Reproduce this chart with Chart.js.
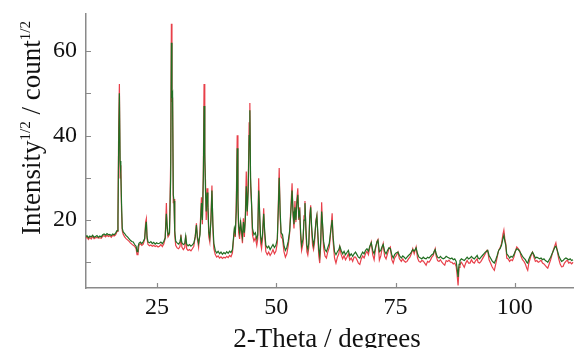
<!DOCTYPE html>
<html>
<head>
<meta charset="utf-8">
<title>XRD pattern</title>
<script src="https://cdn.jsdelivr.net/npm/chart.js@4.4.1/dist/chart.umd.min.js"></script>
<style>
    html, body { margin: 0; padding: 0; background: #fff; }
    #wrap { width: 574px; height: 348px; }
</style>
</head>
<body>
<div id="wrap"><canvas id="xrdChart" width="574" height="348"></canvas></div>
<script>
// 2-theta positions (degrees)
const twoTheta = [
    10.0, 10.3, 10.6, 10.9, 11.2, 11.5, 11.8, 12.1, 12.4, 12.7, 13.0, 13.3, 13.6, 13.9, 14.2, 14.5, 14.8, 15.1, 15.4, 15.7,
    16.0, 16.3, 16.6, 16.8, 16.95, 17.1, 17.25, 17.4, 17.55, 17.7, 17.9, 18.2, 18.5, 18.8, 19.1, 19.4, 19.7, 20.0, 20.3, 20.6,
    20.8, 21.0, 21.2, 21.5, 21.8, 22.1, 22.4, 22.6, 22.75, 22.9, 23.1, 23.4, 23.7, 24.0, 24.3, 24.6, 24.9, 25.2, 25.5, 25.8,
    26.1, 26.4, 26.7, 26.95, 27.1, 27.3, 27.6, 27.85, 28.0, 28.12, 28.25, 28.4, 28.55, 28.7, 28.9, 29.2, 29.5, 29.8, 30.0, 30.2,
    30.5, 30.8, 31.0, 31.2, 31.5, 31.8, 32.1, 32.4, 32.7, 33.0, 33.25, 33.45, 33.7, 34.0, 34.3, 34.5, 34.7, 34.85, 35.0, 35.15,
    35.3, 35.5, 35.65, 35.85, 36.05, 36.3, 36.5, 36.7, 36.9, 37.2, 37.5, 37.8, 38.1, 38.4, 38.7, 39.0, 39.3, 39.6, 39.9, 40.2,
    40.5, 40.8, 41.0, 41.2, 41.4, 41.6, 41.8, 41.95, 42.1, 42.3, 42.5, 42.7, 42.9, 43.1, 43.3, 43.5, 43.7, 43.9, 44.1, 44.3,
    44.45, 44.6, 44.8, 45.0, 45.3, 45.6, 45.9, 46.1, 46.3, 46.5, 46.7, 46.9, 47.1, 47.35, 47.55, 47.8, 48.1, 48.4, 48.7, 49.0,
    49.3, 49.6, 49.9, 50.2, 50.4, 50.6, 50.8, 51.0, 51.3, 51.6, 51.9, 52.2, 52.5, 52.8, 53.0, 53.3, 53.5, 53.7, 53.9, 54.1,
    54.3, 54.5, 54.7, 54.9, 55.1, 55.3, 55.6, 55.8, 56.0, 56.2, 56.4, 56.6, 56.8, 57.0, 57.2, 57.4, 57.6, 57.8, 58.0, 58.3,
    58.5, 58.7, 58.9, 59.1, 59.3, 59.5, 59.7, 59.9, 60.2, 60.5, 60.8, 61.1, 61.4, 61.7, 61.9, 62.2, 62.5, 62.8, 63.1, 63.3,
    63.6, 63.9, 64.2, 64.5, 64.8, 65.1, 65.4, 65.7, 66.0, 66.3, 66.6, 66.9, 67.2, 67.5, 67.8, 68.1, 68.4, 68.7, 69.0, 69.3,
    69.6, 69.9, 70.2, 70.5, 70.8, 71.1, 71.3, 71.6, 71.9, 72.2, 72.4, 72.7, 73.0, 73.3, 73.6, 73.9, 74.2, 74.5, 74.8, 75.1,
    75.5, 75.8, 76.2, 76.5, 76.8, 77.1, 77.4, 77.7, 78.0, 78.3, 78.6, 78.9, 79.3, 79.6, 79.9, 80.2, 80.5, 80.8, 81.1, 81.4,
    81.7, 82.0, 82.3, 82.6, 82.9, 83.1, 83.3, 83.5, 83.8, 84.1, 84.4, 84.7, 85.0, 85.3, 85.6, 85.9, 86.2, 86.5, 86.8, 87.1,
    87.4, 87.7, 87.9, 88.1, 88.3, 88.5, 88.8, 89.1, 89.4, 89.7, 90.0, 90.3, 90.6, 90.9, 91.2, 91.5, 91.8, 92.1, 92.3, 92.6,
    92.9, 93.2, 93.5, 93.8, 94.1, 94.3, 94.6, 94.9, 95.2, 95.5, 95.7, 96.0, 96.3, 96.6, 96.9, 97.2, 97.5, 97.7, 97.9, 98.1,
    98.3, 98.6, 98.9, 99.2, 99.5, 99.8, 100.1, 100.4, 100.7, 101.0, 101.3, 101.6, 101.9, 102.2, 102.5, 102.7, 102.9, 103.2, 103.5, 103.7,
    104.0, 104.3, 104.6, 104.9, 105.2, 105.5, 105.8, 106.1, 106.4, 106.7, 106.9, 107.2, 107.5, 107.8, 108.1, 108.4, 108.6, 108.9, 109.2, 109.5,
    109.8, 110.1, 110.4, 110.7, 111.0, 111.3, 111.6, 111.9, 112.2
];

// calculated profile (green), sqrt(counts)
const calcValues = [
    16.0, 16.3, 15.8, 16.2, 16.0, 16.4, 15.9, 16.1, 16.3, 15.9, 16.2, 16.0, 16.5, 16.7, 16.4, 16.8, 16.5, 16.6, 16.3, 16.7,
    16.5, 16.9, 17.5, 20.0, 38.0, 50.0, 34.0, 31.0, 24.0, 18.0, 17.2, 16.8, 16.3, 16.0, 15.6, 15.2, 14.9, 14.8, 14.2, 13.8,
    12.5, 13.6, 14.5, 14.8, 14.4, 14.9, 15.6, 18.5, 19.6, 16.0, 14.8, 14.6, 14.9, 14.4, 14.7, 14.3, 14.6, 14.4, 14.5, 14.8,
    14.4, 14.9, 15.8, 21.5, 19.0, 16.5, 17.0, 30.0, 62.0, 49.5, 50.0, 26.0, 24.5, 17.5, 15.0, 14.6, 14.3, 14.8, 16.0, 14.6,
    14.2, 14.4, 16.2, 14.3, 13.9, 14.2, 13.8, 14.1, 14.5, 16.0, 18.8, 16.0, 14.5, 16.5, 24.0, 20.0, 30.0, 47.0, 36.0, 27.0,
    22.0, 26.5, 24.0, 17.0, 15.8, 20.0, 27.0, 19.0, 14.5, 12.8, 12.2, 12.6, 12.0, 12.4, 11.9, 12.3, 12.0, 12.5, 12.1, 12.6,
    12.3, 13.0, 15.5, 18.0, 17.0, 22.0, 37.0, 25.0, 18.5, 17.0, 19.5, 17.5, 16.0, 19.5, 17.0, 20.0, 28.0, 22.0, 27.0, 40.0,
    46.0, 30.0, 24.0, 18.0, 16.5, 17.0, 15.5, 16.5, 27.0, 22.0, 16.0, 14.8, 16.5, 21.5, 17.5, 14.0, 13.4, 13.8, 13.0, 13.6,
    14.2, 13.5, 14.0, 15.5, 22.0, 30.0, 22.0, 17.0, 16.5, 14.0, 12.8, 13.5, 15.0, 17.5, 21.0, 27.0, 22.0, 19.0, 23.0, 20.0,
    24.0, 26.0, 21.0, 22.0, 17.0, 14.0, 15.5, 20.0, 24.0, 18.0, 14.0, 13.0, 14.5, 20.0, 23.0, 18.5, 15.5, 14.0, 15.5, 19.5,
    21.0, 17.0, 13.0, 11.5, 15.0, 22.0, 19.0, 15.0, 13.0, 12.5, 13.5, 14.5, 17.5, 20.0, 16.0, 12.5, 11.8, 12.5, 13.0, 13.8,
    12.8, 12.0, 12.6, 11.8, 12.3, 12.8, 11.5, 12.0, 11.4, 12.0, 12.4, 11.8, 11.2, 11.0, 11.8, 12.4, 12.0, 12.8, 13.2, 12.6,
    13.8, 14.6, 12.8, 12.0, 13.6, 14.8, 15.2, 12.5, 12.8, 13.8, 14.2, 12.6, 12.0, 12.8, 13.4, 13.2, 11.8, 11.0, 11.8, 12.2,
    12.4, 11.6, 11.0, 11.5, 11.2, 10.8, 11.2, 11.6, 11.9, 12.4, 13.0, 12.6, 13.4, 12.0, 11.2, 11.0, 10.8, 11.2, 10.9, 10.8,
    11.2, 11.0, 11.4, 11.8, 12.0, 12.6, 13.0, 12.0, 11.2, 11.0, 11.4, 11.0, 10.8, 11.0, 11.4, 11.2, 11.0, 10.8, 11.0, 10.6,
    10.8, 10.2, 8.5, 6.5, 9.5, 10.4, 10.8, 10.6, 10.4, 10.8, 11.2, 10.8, 11.0, 11.4, 11.0, 10.8, 11.2, 11.6, 11.0, 10.8,
    11.2, 11.6, 12.0, 12.4, 12.6, 12.8, 11.6, 11.0, 10.4, 10.0, 9.8, 10.6, 11.6, 12.8, 13.2, 14.0, 15.6, 16.4, 15.0, 14.0,
    12.0, 11.6, 11.0, 11.4, 11.2, 11.8, 12.6, 13.2, 13.0, 12.6, 12.0, 11.4, 11.0, 10.6, 10.0, 9.8, 10.6, 11.4, 12.0, 12.4,
    11.8, 11.0, 11.2, 11.0, 10.8, 11.0, 10.6, 10.8, 10.4, 10.2, 10.0, 10.6, 11.2, 12.0, 12.8, 13.6, 13.8, 12.8, 11.6, 10.8,
    10.2, 10.4, 10.8, 11.0, 10.8, 10.6, 10.8, 10.4, 10.6
];

// observed profile (red), sqrt(counts)
const obsValues = [
    15.6, 16.0, 15.4, 15.9, 15.5, 16.1, 15.6, 15.8, 15.9, 15.7, 15.8, 15.7, 16.2, 16.3, 16.0, 16.4, 16.1, 16.3, 15.9, 16.4,
    16.2, 16.5, 17.3, 21.0, 42.0, 52.2, 30.0, 33.0, 22.0, 17.5, 16.6, 16.0, 15.6, 15.3, 15.0, 14.6, 14.3, 14.0, 13.8, 13.2,
    11.8, 12.0, 14.0, 14.4, 14.0, 14.3, 15.4, 19.5, 20.3, 15.5, 14.2, 13.9, 14.1, 13.8, 14.0, 13.7, 13.9, 13.6, 13.8, 14.2,
    13.7, 14.3, 15.6, 24.0, 18.0, 16.0, 16.6, 34.0, 66.5, 48.0, 49.0, 24.0, 25.0, 16.5, 14.0, 13.4, 13.2, 13.7, 16.5, 13.6,
    13.0, 13.5, 16.4, 13.2, 12.8, 13.0, 12.7, 13.2, 13.8, 16.2, 19.2, 15.5, 13.6, 17.5, 25.4, 19.0, 32.0, 52.2, 34.0, 29.5,
    20.0, 27.5, 23.0, 16.0, 14.8, 21.0, 28.2, 18.0, 13.2, 11.8, 11.2, 11.5, 11.0, 11.3, 10.9, 11.2, 11.0, 11.4, 11.1, 11.6,
    11.3, 12.2, 15.0, 17.5, 16.0, 24.0, 40.1, 24.0, 17.0, 15.5, 20.0, 16.5, 14.5, 20.4, 16.0, 21.0, 31.5, 21.0, 28.0, 43.0,
    47.7, 28.0, 24.0, 16.5, 15.0, 15.8, 14.0, 15.5, 29.9, 20.0, 14.5, 13.2, 15.5, 22.8, 16.5, 12.5, 11.8, 12.4, 11.6, 12.2,
    13.0, 12.0, 12.6, 14.5, 23.0, 32.3, 21.0, 16.0, 15.5, 12.5, 11.2, 12.0, 14.0, 17.0, 22.0, 28.7, 21.0, 18.0, 24.5, 19.5,
    25.0, 27.5, 20.0, 23.0, 15.5, 12.8, 14.5, 21.0, 24.5, 17.0, 12.5, 11.7, 13.5, 21.0, 23.5, 17.5, 14.0, 13.0, 14.5, 20.0,
    21.1, 16.0, 11.5, 9.8, 14.0, 24.2, 18.0, 13.5, 11.5, 11.0, 12.5, 13.5, 17.0, 21.6, 15.0, 11.0, 9.8, 11.2, 12.0, 13.6,
    11.8, 10.8, 11.6, 10.6, 11.2, 12.0, 10.5, 11.0, 10.2, 11.2, 11.2, 10.6, 9.8, 9.5, 10.8, 11.5, 11.0, 12.0, 12.6, 11.8,
    13.6, 14.8, 11.8, 10.6, 13.2, 15.0, 15.4, 10.5, 11.5, 13.5, 14.4, 11.4, 10.8, 12.0, 13.2, 13.6, 10.6, 9.8, 11.0, 11.5,
    12.4, 10.8, 10.2, 10.8, 10.3, 10.0, 10.2, 10.8, 11.2, 12.0, 13.2, 12.0, 13.6, 11.0, 10.2, 10.0, 10.4, 10.3, 9.8, 9.3,
    10.2, 10.0, 10.5, 11.2, 11.6, 12.5, 13.2, 11.5, 10.4, 10.2, 10.6, 10.0, 9.6, 9.3, 10.4, 10.2, 10.5, 10.0, 10.0, 9.6,
    9.8, 9.0, 7.0, 4.5, 8.8, 9.6, 10.0, 9.4, 8.8, 9.8, 10.4, 9.8, 9.8, 10.6, 10.0, 9.8, 10.4, 10.8, 10.0, 9.8,
    10.2, 10.8, 11.4, 12.0, 12.8, 12.8, 10.6, 9.8, 9.0, 8.4, 8.1, 9.6, 11.2, 12.8, 13.4, 14.4, 16.6, 17.6, 15.5, 14.4,
    11.0, 10.8, 10.2, 10.6, 10.4, 11.2, 12.6, 13.6, 13.2, 12.8, 11.4, 10.6, 10.2, 9.6, 8.6, 8.1, 9.6, 10.8, 12.0, 12.4,
    11.2, 10.2, 10.4, 10.0, 10.2, 10.5, 9.8, 9.6, 9.2, 8.8, 8.6, 9.6, 10.6, 11.8, 13.0, 14.0, 14.6, 12.6, 10.8, 9.6,
    8.9, 9.0, 9.8, 10.2, 10.5, 9.8, 10.0, 9.6, 10.0
];

const xTicks = [25, 50, 75, 100];
const yTicks = [10, 20, 30, 40, 50, 60];
const yLabelled = [20, 40, 60];

const serif = '"Liberation Serif", "DejaVu Serif", serif';
const axisGrey = '#8a8a8a';

function toPoints(values) {
    return twoTheta.map((x, i) => ({ x, y: values[i] }));
}

// inward tick marks and the axis titles (with superscripts)
const decorPlugin = {
    id: 'decor',
    afterDraw(chart) {
        const { ctx, chartArea } = chart;
        const xs = chart.scales.x;
        const ys = chart.scales.y;

        ctx.save();
        ctx.strokeStyle = axisGrey;
        ctx.lineWidth = 1.2;
        ctx.beginPath();
        xTicks.forEach(v => {
            const px = Math.round(xs.getPixelForValue(v)) + 0.5;
            ctx.moveTo(px, chartArea.bottom);
            ctx.lineTo(px, chartArea.bottom - 5);
        });
        yTicks.forEach(v => {
            const py = Math.round(ys.getPixelForValue(v)) + 0.5;
            ctx.moveTo(chartArea.left, py);
            ctx.lineTo(chartArea.left + 5, py);
        });
        ctx.stroke();

        ctx.fillStyle = '#111';
        ctx.textBaseline = 'alphabetic';

        // x title
        ctx.font = '27px ' + serif;
        ctx.textAlign = 'center';
        ctx.fillText('2-Theta / degrees', 327, 347);

        // y title, rotated, with 1/2 superscripts
        const parts = [
            ['Intensity', false], ['1/2', true], [' / count', false], ['1/2', true]
        ];
        const big = '27px ' + serif;
        const small = '15px ' + serif;
        let total = 0;
        parts.forEach(([t, sup]) => {
            ctx.font = sup ? small : big;
            total += ctx.measureText(t).width;
        });
        ctx.translate(40, 128);
        ctx.rotate(-Math.PI / 2);
        ctx.textAlign = 'left';
        let cx = -total / 2;
        parts.forEach(([t, sup]) => {
            ctx.font = sup ? small : big;
            ctx.fillText(t, cx, sup ? -10 : 0);
            cx += ctx.measureText(t).width;
        });
        ctx.restore();
    }
};

const ctx = document.getElementById('xrdChart').getContext('2d');

new Chart(ctx, {
    type: 'line',
    data: {
        datasets: [
            {
                label: 'Calculated',
                data: toPoints(calcValues),
                borderColor: '#226e22',
                borderWidth: 1.2,
                pointRadius: 0,
                tension: 0,
                order: 0
            },
            {
                label: 'Observed',
                data: toPoints(obsValues),
                borderColor: '#e8404a',
                borderWidth: 1.2,
                pointRadius: 0,
                tension: 0,
                order: 1
            }
        ]
    },
    options: {
        responsive: false,
        animation: false,
        devicePixelRatio: 1,
        layout: { padding: { top: 14, right: 0, left: 0, bottom: 0 } },
        plugins: {
            legend: { display: false },
            tooltip: { enabled: false }
        },
        scales: {
            x: {
                type: 'linear',
                min: 10.1,
                max: 112.4,
                afterBuildTicks: scale => { scale.ticks = xTicks.map(v => ({ value: v })); },
                afterFit: scale => {
                    scale.height = 60;
                    scale.paddingLeft = 0;
                    scale.paddingRight = 0;
                },
                grid: { drawOnChartArea: false, drawTicks: false },
                border: { color: axisGrey, width: 1.5 },
                ticks: {
                    padding: 5,
                    color: '#111',
                    font: { family: serif, size: 24 }
                }
            },
            y: {
                min: 3.9,
                max: 68.8,
                afterBuildTicks: scale => { scale.ticks = yTicks.map(v => ({ value: v })); },
                afterFit: scale => {
                    scale.width = 86;
                    scale.paddingTop = 0;
                    scale.paddingBottom = 0;
                },
                grid: { drawOnChartArea: false, drawTicks: false },
                border: { color: axisGrey, width: 1.5 },
                ticks: {
                    padding: 9,
                    color: '#111',
                    font: { family: serif, size: 24 },
                    callback: value => yLabelled.includes(value) ? String(value) : ''
                }
            }
        }
    },
    plugins: [decorPlugin]
});
</script>
</body>
</html>
